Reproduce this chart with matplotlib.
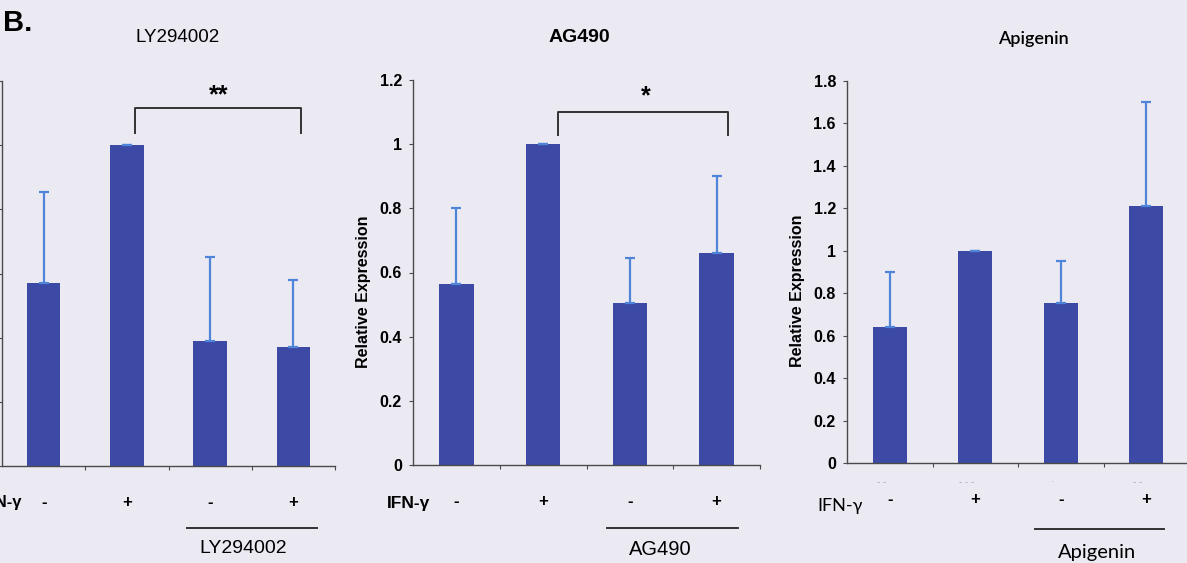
import numpy as np
import matplotlib.pyplot as plt

# Relative expression values
ifn_labels = ['-', '+', '-', '+']
ly_mean = [0.57, 1.0, 0.39, 0.37]
ly_err = [0.285, 0.0, 0.26, 0.21]
ag_mean = [0.565, 1.0, 0.505, 0.66]
ag_err = [0.235, 0.0, 0.14, 0.24]
api_mean = [0.64, 1.0, 0.755, 1.21]
api_err = [0.26, 0.0, 0.195, 0.49]
api_marks = ['- -', '- - -', '·', '- -']

bg = '#ebeaf3'
bar_col = '#3c4aa6'
err_col = '#4f84d8'
axis_col = '#4a4a4a'

W, H = 1187, 563
fig = plt.figure(figsize=(W / 100, H / 100), dpi=100, facecolor=bg)
plt.rcParams['font.family'] = ['Liberation Sans', 'DejaVu Sans']
calibri = ['Lato', 'DejaVu Sans']


def px_axes(left, right, bottom, top):
    return fig.add_axes([left / W, (H - bottom) / H, (right - left) / W, (bottom - top) / H])


def panel(ax, mean, err, ymax, step, show_labels=True, ylabel=True):
    x = np.arange(1, len(mean) + 1)
    ax.set_facecolor('none')
    ax.bar(x, mean, width=0.4, color=bar_col, zorder=2)
    ax.errorbar(x, mean, yerr=[np.zeros(len(err)), err], fmt='none',
                ecolor=err_col, elinewidth=1.6, capsize=3.6, capthick=1.6, zorder=3)
    ax.set_xlim(0.5, 4.5)
    ax.set_ylim(0, ymax)
    ticks = np.round(np.arange(0, ymax + 1e-9, step), 1)
    ax.set_yticks(ticks)
    ax.set_yticklabels(['%g' % v for v in ticks], fontsize=11.5, fontweight='bold')
    if not show_labels:
        ax.set_yticklabels([])
    ax.set_xticks([1.5, 2.5, 3.5, 4.5])
    ax.set_xticklabels([])
    for s in ['top', 'right']:
        ax.spines[s].set_visible(False)
    for s in ['left', 'bottom']:
        ax.spines[s].set_color(axis_col)
        ax.spines[s].set_linewidth(1.0)
    ax.tick_params(axis='both', direction='out', length=3, width=0.8, color=axis_col, pad=5)
    if ylabel:
        ax.set_ylabel('Relative Expression', fontsize=11.5, fontweight='bold')
        ax.yaxis.set_label_coords(-0.122, 0.45)
    tr = ax.get_xaxis_transform()
    for xi, lab in zip(x, ifn_labels):
        ax.text(xi, -0.095, lab, transform=tr, ha='center', va='center',
                fontsize=12, fontweight='bold', clip_on=False)


# Panel 1: LY294002
ax1 = px_axes(2, 335, 466, 81)
panel(ax1, ly_mean, ly_err, 1.2, 0.2, show_labels=False, ylabel=False)
tr = ax1.get_xaxis_transform()
ax1.text(0.74, -0.095, 'IFN-γ', transform=tr, ha='right', va='center',
         fontsize=12, fontweight='bold', clip_on=False)
ax1.plot([2.72, 4.28], [-0.16, -0.16], transform=tr, color='#333333', lw=1.4, clip_on=False)
ax1.text(3.40, -0.215, 'LY294002', transform=tr, ha='center', va='center',
         fontsize=14, clip_on=False)
ax1.plot([2.1, 2.1, 4.09, 4.09], [1.037, 1.115, 1.115, 1.037], color='#333333', lw=1.4, clip_on=False)
ax1.text(3.1, 1.155, '**', ha='center', va='center', fontsize=18, fontweight='bold')

# Panel 2: AG490
ax2 = px_axes(413, 760, 465, 80)
panel(ax2, ag_mean, ag_err, 1.2, 0.2)
tr = ax2.get_xaxis_transform()
ax2.text(0.70, -0.1, 'IFN-γ', transform=tr, ha='right', va='center',
         fontsize=12.5, fontweight='bold', clip_on=False)
ax2.plot([2.74, 4.25], [-0.164, -0.164], transform=tr, color='#333333', lw=1.4, clip_on=False)
ax2.text(3.35, -0.22, 'AG490', transform=tr, ha='center', va='center',
         fontsize=14.5, clip_on=False)
ax2.plot([2.17, 2.17, 4.13, 4.13], [1.03, 1.10, 1.10, 1.03], color='#333333', lw=1.4, clip_on=False)
ax2.text(3.18, 1.15, '*', ha='center', va='center', fontsize=18, fontweight='bold')

# Panel 3: Apigenin
ax3 = px_axes(847, 1189, 463, 81)
panel(ax3, api_mean, api_err, 1.8, 0.2)
tr = ax3.get_xaxis_transform()
ax3.text(0.69, -0.113, 'IFN-γ', transform=tr, ha='right', va='center',
         fontsize=13, family=calibri, clip_on=False)
ax3.plot([2.70, 4.21], [-0.173, -0.173], transform=tr, color='#333333', lw=1.4, clip_on=False)
ax3.text(3.42, -0.233, 'Apigenin', transform=tr, ha='center', va='center',
         fontsize=14.5, family=calibri, clip_on=False)
for xi, m in zip(np.arange(1, 5), api_marks):
    ax3.text(xi - 0.1, -0.05, m, transform=tr, ha='center', va='center',
             fontsize=7, color='#a8a8b4', clip_on=False)

# Titles and panel letter
fig.text(178 / W, 1 - 38 / H, 'LY294002', ha='center', va='center', fontsize=13.5)
fig.text(579 / W, 1 - 38 / H, 'AG490', ha='center', va='center', fontsize=14, fontweight='bold')
fig.text(1033 / W, 1 - 39 / H, 'Apigenin', ha='center', va='center', fontsize=13,
         family=calibri, fontweight='semibold')
fig.text(3 / W, 1 - 23 / H, 'B.', ha='left', va='center', fontsize=21, fontweight='bold')

fig.savefig('out.png', dpi=100, facecolor=bg)
